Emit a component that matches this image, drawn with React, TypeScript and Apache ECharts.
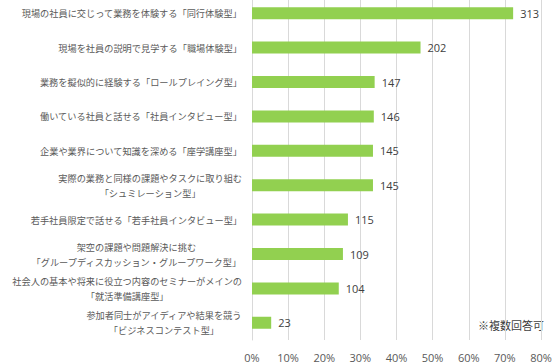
import React, { useEffect, useRef } from "react";
import * as echarts from "echarts";

const categories: string[] = [
  "現場の社員に交じって業務を体験する「同行体験型」",
  "現場を社員の説明で見学する「職場体験型」",
  "業務を擬似的に経験する「ロールプレイング型」",
  "働いている社員と話せる「社員インタビュー型」",
  "企業や業界について知識を深める「座学講座型」",
  "実際の業務と同様の課題やタスクに取り組む\n「シュミレーション型」",
  "若手社員限定で話せる「若手社員インタビュー型」",
  "架空の課題や問題解決に挑む\n「グループディスカッション・グループワーク型」",
  "社会人の基本や将来に役立つ内容のセミナーがメインの\n「就活準備講座型」",
  "参加者同士がアイディアや結果を競う\n「ビジネスコンテスト型」",
];

const counts: number[] = [313, 202, 147, 146, 145, 145, 115, 109, 104, 23];
const respondents = 433;
const percents: number[] = counts.map((c) => (c / respondents) * 100);

const xTicks = { min: 0, max: 80, interval: 10 };
const note = "※複数回答可";

export default function App() {
  const ref = useRef<HTMLDivElement>(null);
  useEffect(() => {
    if (!ref.current) return;
    const chart = echarts.init(ref.current, undefined, { renderer: "svg" });
    const font = "'Noto Sans CJK JP', 'Noto Sans', sans-serif";
    const numFont = "'Open Sans', 'Noto Sans', sans-serif";
    const labelSize = 9.2;
    chart.setOption({
      animation: false,
      textStyle: { fontFamily: font },
      grid: {
        left: 252,
        right: 15,
        top: -4,
        height: 344,
        containLabel: false,
        outerBoundsMode: "none",
      },
      xAxis: {
        type: "value",
        min: xTicks.min,
        max: xTicks.max,
        interval: xTicks.interval,
        axisLine: { show: false },
        axisTick: { show: false },
        splitLine: { show: true, lineStyle: { color: "#d9d9d9", width: 1 } },
        axisLabel: {
          formatter: "{value}%",
          color: "#595959",
          fontSize: 11,
          margin: 12,
          fontFamily: numFont,
        },
      },
      yAxis: {
        type: "category",
        inverse: true,
        data: categories,
        axisLine: { show: true, lineStyle: { color: "#d9d9d9" } },
        axisTick: { show: false },
        axisLabel: {
          color: "#595959",
          fontSize: labelSize,
          margin: 10,
          fontFamily: font,
          lineHeight: 15,
          formatter: (v: string) =>
            v
              .split("\n")
              .map((l) => `{c|${l}}`)
              .join("\n"),
          rich: {
            c: {
              align: "center",
              color: "#595959",
              fontSize: labelSize,
              lineHeight: 15,
              fontFamily: font,
            },
          },
        },
      },
      series: [
        {
          type: "bar",
          data: percents,
          barWidth: 12,
          itemStyle: { color: "#92D050" },
          label: {
            show: true,
            position: "right",
            distance: 7,
            color: "#404040",
            fontSize: 11,
            fontFamily: numFont,
            formatter: (p: any) => String(counts[p.dataIndex]),
          },
        },
      ],
      graphic: [
        {
          type: "text",
          right: 12,
          top: 319,
          style: {
            text: note,
            fill: "#404040",
            fontSize: 11,
            fontFamily: font,
          },
        },
      ],
    });
    return () => chart.dispose();
  }, []);
  return (
    <div
      ref={ref}
      style={{ position: "fixed", left: 0, top: 0, width: 556, height: 364, background: "#fff" }}
    />
  );
}
